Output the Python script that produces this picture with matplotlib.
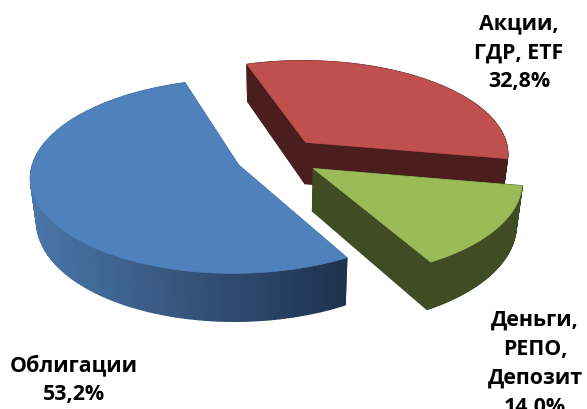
import numpy as np
import matplotlib
matplotlib.use('Agg')
import matplotlib.pyplot as plt
from matplotlib.colors import to_rgb
from matplotlib.patches import Polygon

plt.rcParams['font.family'] = ['Open Sans', 'DejaVu Sans']

# slices run clockwise from the start angle
labels = ['Акции,\nГДР, ETF\n32,8%', 'Деньги,\nРЕПО,\nДепозит\n14,0%', 'Облигации\n53,2%']
shares = [32.8, 14.0, 53.2]
top_colors = ['#c0504d', '#9bbb59', '#4f81bd']
# wall colours at the left and right end of each slice
wall_left = ['#4b1e1e', '#3f4c24', '#4a76a8']
wall_right = ['#4b1e1e', '#3f4c24', '#1f324e']
label_pos = [(519, 53), (535, 364), (74, 380)]

# pie geometry in pixels
cx, cy = 278, 157
rx, ry = 204, 94
persp = 0.114
explode = 0.21
depth = 42
shrink = 0.975
start = 108.0


def project(u, v, drop=0.0):
    s = 1 / (1 + persp * v)
    x = rx * u * s
    if drop:
        x = x * shrink
    return cx + x, cy - ry * v * s + drop * depth * s


def strip(ax, u, v, color):
    u, v = np.asarray(u), np.asarray(v)
    x, y = project(u, v)
    x2, y2 = project(u, v, 1.0)
    pts = np.column_stack([np.r_[x, x2[::-1]], np.r_[y, y2[::-1]]])
    ax.add_patch(Polygon(pts, closed=True, fc=color, ec=color, lw=1.0))


fig = plt.figure(figsize=(5.87, 4.09), dpi=100)
ax = fig.add_axes([0, 0, 1, 1])
ax.set_xlim(0, 587)
ax.set_ylim(409, 0)
ax.axis('off')

angle = start
for share, top, cl, cr in zip(shares, top_colors, wall_left, wall_right):
    sweep = -share * 3.6
    th = np.radians(np.linspace(angle, angle + sweep, 160))
    mid = np.radians(angle + sweep / 2)
    ou, ov = explode * np.cos(mid), explode * np.sin(mid)
    u = ou + np.cos(th)
    v = ov + np.sin(th)

    # cut faces first, the top face hides whatever is behind it
    for i in (0, -1):
        strip(ax, [ou, u[i]], [ov, v[i]], cl)

    # outer wall as thin strips so the shade can run left to right
    x = project(u, v)[0]
    c0, c1 = np.array(to_rgb(cl)), np.array(to_rgb(cr))
    for i in range(len(u) - 1):
        t = (x[i] - x.min()) / (x.max() - x.min())
        strip(ax, u[i:i + 2], v[i:i + 2], c0 + (c1 - c0) * t)

    tx, ty = project(np.r_[ou, u], np.r_[ov, v])
    ax.add_patch(Polygon(np.column_stack([tx, ty]), closed=True, fc=top, ec=top, lw=0.5))
    angle += sweep

for text, (lx, ly) in zip(labels, label_pos):
    ax.text(lx, ly, text, ha='center', va='center', fontsize=15.4, fontweight='bold',
            color='black', linespacing=1.5)

fig.savefig('out.png', dpi=100)
